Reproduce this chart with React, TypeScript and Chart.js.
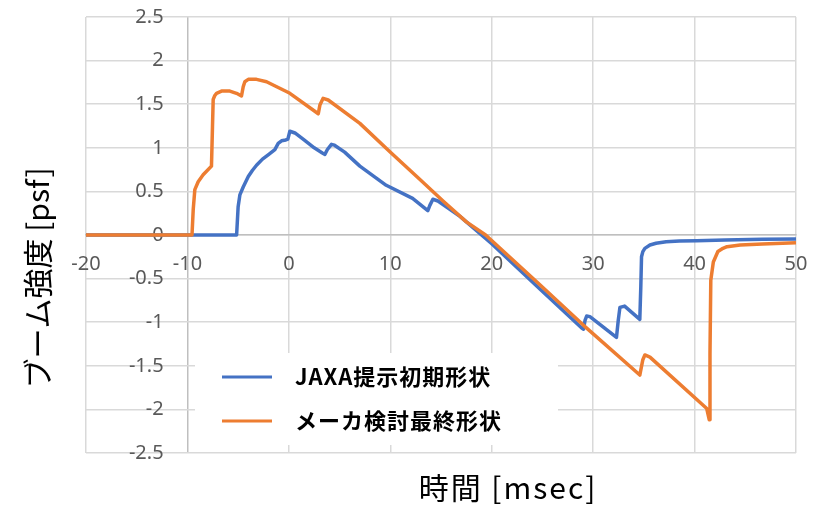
import React, { useEffect, useRef } from "react";
import { Chart, registerables } from "chart.js";

Chart.register(...registerables);

// Time axis [msec] and boom strength [psf] for each shape
const jaxaTimes = [
  -20, -5.15, -5.0, -4.83, -4.5, -4.0, -3.6, -3.19, -2.6, -2.04, -1.6, -1.38, -1.05,
  -0.72, -0.3, -0.1, 0.1, 0.6, 1.5, 2.5, 3.3, 3.55, 3.8, 4.2, 4.5, 5.5, 7.0, 9.6,
  12.2, 13.7, 13.9, 14.2, 14.7, 16.9, 20.0, 24.75, 28.9, 29.05, 29.2, 29.36, 29.68,
  32.3, 32.48, 32.64, 33.1, 34.6, 34.7, 34.77, 34.9, 35.1, 35.6, 36.2, 37.2, 38.5,
  40.2, 43.0, 46.7, 50,
];
const jaxaValues = [
  0, 0, 0.325, 0.46, 0.55, 0.67, 0.74, 0.8, 0.87, 0.92, 0.96, 0.98, 1.05,
  1.08, 1.09, 1.1, 1.19, 1.17, 1.09, 1.0, 0.94, 0.925, 0.98, 1.04, 1.03, 0.95, 0.79, 0.57,
  0.42, 0.28, 0.34, 0.41, 0.39, 0.21, -0.1, -0.62, -1.07, -1.08, -0.98, -0.93, -0.936,
  -1.174, -0.975, -0.83, -0.815, -0.967, -0.59, -0.25, -0.19, -0.153, -0.115, -0.095, -0.077, -0.07,
  -0.065, -0.058, -0.05, -0.046,
];

const makerTimes = [
  -20, -9.55, -9.43, -9.27, -8.94, -8.45, -7.63, -7.53, -7.46, -7.3, -7.13, -6.64, -5.82,
  -5.16, -4.67, -4.5, -4.34, -4.0, -3.19, -2.2, 0.1, 2.9, 3.06, 3.38, 3.88, 7.0, 9.96,
  12.9, 15.2, 17.5, 19.4, 24.75, 29.0, 34.6, 34.9, 35.1, 35.6, 41.2, 41.45, 41.52,
  41.6, 41.85, 42.3, 42.8, 43.2, 44.5, 46.7, 50,
];
const makerValues = [
  0, 0, 0.29, 0.52, 0.61, 0.69, 0.79, 1.24, 1.556, 1.6, 1.625, 1.65, 1.65,
  1.625, 1.594, 1.7, 1.758, 1.785, 1.785, 1.758, 1.625, 1.39, 1.49, 1.567, 1.548, 1.28, 0.955,
  0.64, 0.39, 0.15, 0.0, -0.57, -1.03, -1.606, -1.43, -1.376, -1.4, -1.99, -2.12, -1.36,
  -0.52, -0.31, -0.19, -0.153, -0.134, -0.115, -0.103, -0.088,
];

const seriesLabels = ["JAXA提示初期形状", "メーカ検討最終形状"];
const seriesColors = ["#4472C4", "#ED7D31"];
const xTitle = "時間 [msec]";
const yTitle = "ブーム強度 [psf]";

const X_MIN = -20;
const X_MAX = 50;
const X_STEP = 10;
const Y_MIN = -2.5;
const Y_MAX = 2.5;
const Y_STEP = 0.5;
const X_CROSS = -10; // the value axis line sits on t = -10
const Y_CROSS = 0; // the time axis sits on the zero line
const Y_LABEL_AT = -12.35; // value tick labels end a little left of the value axis line

const toPoints = (xs: number[], ys: number[]) => xs.map((x, i) => ({ x, y: ys[i] }));

const CJK = '"Noto Sans CJK JP", "Noto Sans", sans-serif';
const GRID = "#d9d9d9";
const AXIS = "#bfbfbf";

const legendBox = {
  id: "legendBox",
  beforeDatasetsDraw(chart: Chart) {
    const ctx = chart.ctx as any;
    ctx.save();
    ctx.fillStyle = "#ffffff";
    ctx.fillRect(195, 353, 363, 92);
    const rows = [377, 421];
    ctx.font = `bold 22px ${CJK}`;
    ctx.letterSpacing = "1px";
    ctx.textBaseline = "middle";
    ctx.textAlign = "left";
    chart.data.datasets.forEach((ds: any, i: number) => {
      const y = rows[i];
      ctx.strokeStyle = ds.borderColor;
      ctx.lineWidth = 3;
      ctx.beginPath();
      ctx.moveTo(222, y);
      ctx.lineTo(272, y);
      ctx.stroke();
      ctx.fillStyle = "#000000";
      ctx.fillText(ds.label, 295, y);
    });
    ctx.restore();
  },
};

const axisTitles = {
  id: "axisTitles",
  afterDraw(chart: Chart) {
    const ctx = chart.ctx as any;
    ctx.save();
    ctx.fillStyle = "#000000";
    ctx.font = `30px ${CJK}`;
    ctx.textAlign = "center";
    ctx.textBaseline = "middle";
    ctx.letterSpacing = "2px";
    ctx.fillText(xTitle, 508, 488);
    ctx.letterSpacing = "0px";
    ctx.translate(38, 278);
    ctx.rotate(-Math.PI / 2);
    ctx.fillText(yTitle, 0, 0);
    ctx.restore();
  },
};

export default function App() {
  const canvasRef = useRef<HTMLCanvasElement | null>(null);

  useEffect(() => {
    if (!canvasRef.current) return;
    const tickFont = { family: '"Noto Sans", sans-serif', size: 20 };
    const chart = new Chart(canvasRef.current, {
      type: "line",
      data: {
        datasets: [
          {
            label: seriesLabels[0],
            data: toPoints(jaxaTimes, jaxaValues),
            borderColor: seriesColors[0],
            backgroundColor: seriesColors[0],
            borderWidth: 3.5,
            pointRadius: 0,
            tension: 0,
            borderJoinStyle: "round",
            order: 1,
          },
          {
            label: seriesLabels[1],
            data: toPoints(makerTimes, makerValues),
            borderColor: seriesColors[1],
            backgroundColor: seriesColors[1],
            borderWidth: 3.5,
            pointRadius: 0,
            tension: 0,
            borderJoinStyle: "round",
            order: 0,
          },
        ],
      },
      options: {
        responsive: false,
        animation: false,
        devicePixelRatio: 1,
        layout: { padding: { left: 86, right: 27, top: 17, bottom: 52 } },
        plugins: { legend: { display: false }, tooltip: { enabled: false } },
        scales: {
          x: {
            type: "linear",
            min: X_MIN,
            max: X_MAX,
            position: { y: Y_CROSS } as any,
            ticks: {
              stepSize: X_STEP,
              color: "#595959",
              font: tickFont,
              padding: 0,
              maxRotation: 0,
              callback: (v: any) => String(v),
            },
            grid: {
              color: (c: any) => (c.tick && c.tick.value === X_CROSS ? AXIS : GRID),
              lineWidth: 1.5,
              drawTicks: true,
              tickLength: 17,
              tickColor: "rgba(0,0,0,0)",
            },
            border: { display: true, color: AXIS, width: 1.5 },
          },
          y: {
            type: "linear",
            min: Y_MIN,
            max: Y_MAX,
            position: { x: Y_LABEL_AT } as any,
            ticks: {
              stepSize: Y_STEP,
              color: "#595959",
              font: tickFont,
              padding: 0,
              callback: (v: any) => String(v),
            },
            grid: { color: GRID, lineWidth: 1.5, drawTicks: false },
            border: { display: false },
          },
        },
      },
      plugins: [legendBox, axisTitles],
    });
    return () => chart.destroy();
  }, []);

  return (
    <div style={{ position: "absolute", left: 0, top: 0, width: 823, height: 505, background: "#fff" }}>
      <canvas ref={canvasRef} width={823} height={505} />
    </div>
  );
}
